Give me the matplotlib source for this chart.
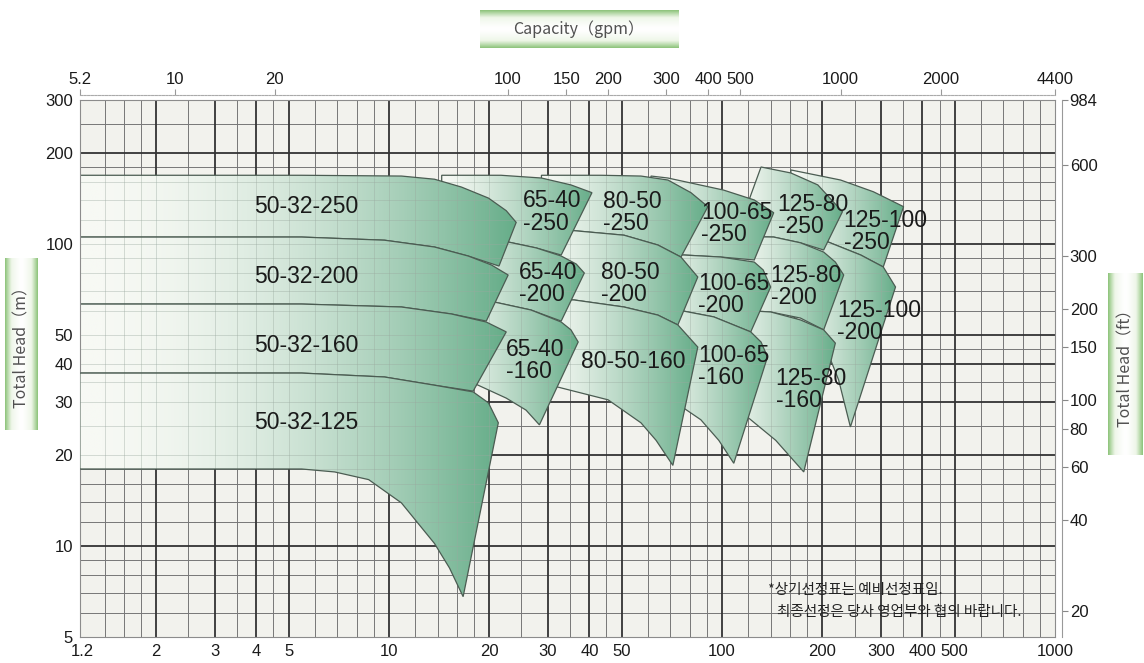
import numpy as np
import matplotlib.pyplot as plt
from matplotlib.patches import Polygon
from matplotlib.colors import LinearSegmentedColormap
from matplotlib.ticker import NullLocator

plt.rcParams['font.family'] = ['Liberation Sans', 'DejaVu Sans']
KR = ['Noto Sans CJK KR', 'DejaVu Sans']

# axis ticks
q_ticks = [1.2, 2, 3, 4, 5, 10, 20, 30, 40, 50, 100, 200, 300, 400, 500, 1000]   # m3/h
h_ticks = [5, 10, 20, 30, 40, 50, 100, 200, 300]                                # m
gpm_ticks = [5.2, 10, 20, 100, 150, 200, 300, 400, 500, 1000, 2000, 4400]
ft_ticks = [20, 40, 60, 80, 100, 150, 200, 300, 600, 984]

# graph paper lines
grid_q_major = [2, 3, 4, 5, 10, 20, 30, 40, 50, 100, 200, 300, 400, 500]
grid_q_minor = [1.4, 1.6, 1.8, 2.5, 3.5, 4.5, 6, 7, 8, 9, 12, 14, 16, 18, 25, 35, 45,
                60, 70, 80, 90, 120, 140, 160, 180, 250, 350, 450, 600, 700, 800, 900]
grid_h_major = [10, 20, 30, 40, 50, 100, 200]
grid_h_minor = [6, 7, 8, 9, 12, 14, 16, 18, 25, 35, 45, 60, 70, 80, 90,
                120, 140, 160, 180, 250]

# pump areas (Q m3/h, H m): max impeller curve left->right, then min impeller curve right->left
a_50_32_250 = [(1.18, 169), (5.47, 169), (10.9, 168), (13.7, 164), (16.5, 154.5), (19.9, 142),
               (22.5, 129), (24.1, 118), (21.4, 84.6), (17.3, 91.3), (13.7, 97.8), (9.7, 103),
               (5.47, 105.5), (1.18, 105.5)]
a_50_32_200 = [(1.18, 105.5), (5.47, 105.5), (9.7, 103), (13.7, 97.8), (17.3, 91.3), (20.3, 85.3),
               (22.8, 79), (19.6, 55.6), (15.4, 58.7), (10.9, 61.9), (5.47, 63.3), (1.18, 63.3)]
a_50_32_160 = [(1.18, 63.3), (5.47, 63.3), (10.9, 61.9), (15.4, 58.7), (19.6, 55.2), (22.5, 51.2),
               (17.9, 32.6), (13.7, 34.1), (9.7, 36.3), (5.47, 37.4), (1.18, 37.4)]
a_50_32_125 = [(1.18, 37.4), (5.47, 37.4), (9.7, 36.3), (13.7, 34.1), (17.9, 32.4), (19.9, 29.8),
               (21.3, 25.6), (16.7, 6.8), (15.2, 8.46), (13.7, 10.2), (10.9, 13.9), (8.69, 16.6),
               (6.87, 17.6), (5.47, 18), (1.18, 18)]
a_65_40_250 = [(14.4, 169), (21.7, 169), (28.7, 165.5), (35.2, 157), (40.7, 148),
               (32.9, 92), (27.7, 97.1), (22.8, 101.6), (14.4, 105.5)]
a_65_40_200 = [(14.4, 105.5), (22.8, 101.6), (27.7, 97.1), (32.9, 91.3), (36.5, 85.9), (38.6, 80.2),
               (32.9, 55.6), (26.7, 60.5), (20.7, 64.3), (14.4, 65.3)]
a_65_40_160 = [(14.4, 65.3), (20.7, 64.3), (26.7, 60.5), (32.9, 55.2), (35.2, 52), (37.0, 47.4),
               (28.3, 25.2), (25.8, 28.2), (22.5, 30.9), (17.9, 34.7), (14.4, 36.9)]
a_80_50_250 = [(28.7, 169), (43.4, 169), (57.1, 168), (68.8, 163), (80.7, 148), (90.7, 133),
               (75.3, 90.6), (64.2, 99.3), (50.8, 107), (35.2, 111), (28.7, 112)]
a_80_50_200 = [(28.7, 112), (35.2, 111), (50.8, 107), (64.2, 99.3), (75.3, 90.6), (84.6, 77.8),
               (73.7, 54.0), (64.2, 58.2), (50.8, 61.9), (36.0, 65.3), (28.7, 65.8)]
a_80_50_160 = [(28.7, 65.8), (36.0, 65.3), (50.8, 61.9), (64.2, 58.2), (73.7, 54.0), (84.6, 45.6),
               (71.2, 18.5), (63.4, 22.4), (57.1, 25.6), (45.5, 30.5), (32.2, 33.6), (28.7, 34.1)]
a_100_65_250 = [(61.2, 168), (68.8, 165.5), (101, 151), (125, 140), (143, 127),
                (125, 88.6), (99.2, 90.6), (76.9, 92), (61.2, 92)]
a_100_65_200 = [(61.2, 92), (76.9, 92), (99.2, 90.6), (125, 87.2), (133, 82.1), (140, 72.1),
                (122, 51.2), (94.5, 57.4), (73.7, 60.5), (61.2, 61)]
a_100_65_160 = [(61.2, 61), (73.7, 60.5), (94.5, 57.4), (122, 51.2), (131, 47.4), (137, 42.3),
                (108.5, 18.8), (97.8, 22.4), (86.4, 26.2), (76.9, 28.6), (61.2, 30.9)]
a_125_80_250 = [(131, 180), (161, 172), (194, 157), (230, 128),
                (202, 95.6), (172, 101), (143, 105.5), (110, 106)]
a_125_80_200 = [(110, 106), (143, 105.5), (172, 101), (202, 94.1), (219, 87.2), (232, 79),
                (202, 52), (172, 56.9), (140, 59.6), (110, 60.5)]
a_125_80_160 = [(110, 60.5), (140, 59.6), (172, 56.1), (202, 52), (219, 47),
                (176, 17.6), (145, 22.4), (120, 26.6), (99.2, 29.3)]
a_125_100_250 = [(161, 176), (227, 163), (285, 149), (351, 133),
                 (305, 84), (261, 92), (202, 103), (161, 107)]
a_125_100_200 = [(161, 107), (202, 103), (261, 92), (305, 84), (332, 72.1),
                 (243, 24.8), (224, 35.5), (198, 50), (161, 58.2)]

# back to front
areas = [
    ('125-100-250', a_125_100_250), ('125-100-200', a_125_100_200),
    ('125-80-250', a_125_80_250), ('125-80-200', a_125_80_200), ('125-80-160', a_125_80_160),
    ('100-65-250', a_100_65_250), ('100-65-200', a_100_65_200), ('100-65-160', a_100_65_160),
    ('80-50-250', a_80_50_250), ('80-50-200', a_80_50_200), ('80-50-160', a_80_50_160),
    ('65-40-250', a_65_40_250), ('65-40-200', a_65_40_200), ('65-40-160', a_65_40_160),
    ('50-32-250', a_50_32_250), ('50-32-200', a_50_32_200), ('50-32-160', a_50_32_160),
    ('50-32-125', a_50_32_125),
]

labels = [
    ('50-32-250', 3.93, 133), ('50-32-200', 3.93, 78.4), ('50-32-160', 3.93, 46.3),
    ('50-32-125', 3.93, 25.6),
    ('65-40\n-250', 25.3, 127.7), ('65-40\n-200', 24.6, 74.3), ('65-40\n-160', 22.5, 41.3),
    ('80-50\n-250', 43.9, 127), ('80-50\n-200', 43.4, 74.3), ('80-50-160', 37.8, 40.7),
    ('100-65\n-250', 86.4, 117), ('100-65\n-200', 84.6, 68.3), ('100-65\n-160', 84.6, 39.2),
    ('125-80\n-250', 147, 124), ('125-80\n-200', 140, 72.6), ('125-80\n-160', 145, 32.9),
    ('125-100\n-250', 232, 110), ('125-100\n-200', 222, 55.6),
]

Q_MIN, Q_MAX = 5.2 / 4.403, 1000
H_MIN, H_MAX = 5, 300

fig = plt.figure(figsize=(11.44, 6.63), dpi=100)
ax = fig.add_axes([80 / 1144, 26 / 663, 975 / 1144, 537 / 663])
ax.set_xscale('log')
ax.set_yscale('log')
ax.set_xlim(Q_MIN, Q_MAX)
ax.set_ylim(H_MIN, H_MAX)
ax.set_facecolor('#f2f2ed')

# paper grid
ax.vlines(grid_q_minor, H_MIN, H_MAX, colors='#777777', lw=0.7, zorder=1)
ax.hlines(grid_h_minor, Q_MIN, Q_MAX, colors='#777777', lw=0.7, zorder=1)
ax.vlines(grid_q_major, H_MIN, H_MAX, colors='#333333', lw=1.3, zorder=1.1)
ax.hlines(grid_h_major, Q_MIN, Q_MAX, colors='#333333', lw=1.3, zorder=1.1)

green = LinearSegmentedColormap.from_list('pump', ['#f7f9f4', '#66ad89'])
to_axes = ax.transData + ax.transAxes.inverted()

for i, (name, pts) in enumerate(areas):
    z = 2 + 0.03 * i
    q = [p[0] for p in pts]
    h = [p[1] for p in pts]
    poly = Polygon(pts, closed=True, fc='none', ec='#4b5c52', lw=0.9, zorder=z + 0.02)
    ax.add_patch(poly)
    (x0, y0), (x1, y1) = to_axes.transform([(min(q), min(h)), (max(q), max(h))])
    power = 1.9 if name.startswith('50-32') else 1.25
    grad = np.linspace(0, 1, 256)[None, :] ** power
    im = ax.imshow(grad, extent=(x0, x1, y0, y1), transform=ax.transAxes, cmap=green,
                   vmin=0, vmax=1, aspect='auto', interpolation='bilinear', zorder=z)
    im.set_clip_path(poly)
    # faded grid seen through the shading
    lv = ax.vlines(grid_q_major + grid_q_minor, H_MIN, H_MAX, colors='#9aa99f',
                   lw=0.6, alpha=0.45, zorder=z + 0.01)
    lh = ax.hlines(grid_h_major + grid_h_minor, Q_MIN, Q_MAX, colors='#9aa99f',
                   lw=0.6, alpha=0.45, zorder=z + 0.01)
    lv.set_clip_path(poly)
    lh.set_clip_path(poly)

for text, q, h in labels:
    ax.text(q, h, text, ha='left', va='center', fontsize=16.5, linespacing=0.95,
            color='#1a1a1a', zorder=10)

ax.text(0.7056, 0.0875, '*상기선정표는 예비선정표임.', transform=ax.transAxes,
        family=KR, fontsize=10.5, ha='left', va='center', color='#222222', zorder=10)
ax.text(0.715, 0.0466, '최종선정은 당사 영업부와 협의 바랍니다.', transform=ax.transAxes,
        family=KR, fontsize=10.5, ha='left', va='center', color='#222222', zorder=10)

ax.set_xlim(Q_MIN, Q_MAX)
ax.set_ylim(H_MIN, H_MAX)
ax.set_xticks(q_ticks, labels=[f'{v:g}' for v in q_ticks])
ax.set_yticks(h_ticks, labels=[f'{v:g}' for v in h_ticks])
ax.xaxis.set_minor_locator(NullLocator())
ax.yaxis.set_minor_locator(NullLocator())
ax.tick_params(length=0, labelsize=12, pad=5, labelcolor='#1a1a1a')
for s in ax.spines.values():
    s.set_color('#8c8c8c')
    s.set_linewidth(0.8)

top = ax.secondary_xaxis(1 + 5 / 537, functions=(lambda v: v * 4.403, lambda v: v / 4.403))
top.set_xticks(gpm_ticks, labels=[f'{v:g}' for v in gpm_ticks])
top.xaxis.set_minor_locator(NullLocator())
top.tick_params(direction='out', length=4, width=0.8, color='#999999', labelsize=12,
                pad=1.5, labelcolor='#1a1a1a')
top.spines['top'].set_color('#aaaaaa')
top.spines['top'].set_linewidth(0.8)
top.spines['top'].set_linestyle((0, (2, 1.2)))

right = ax.secondary_yaxis(1 + 7 / 975, functions=(lambda v: v * 3.2808, lambda v: v / 3.2808))
right.set_yticks(ft_ticks, labels=[f'{v:g}' for v in ft_ticks])
right.yaxis.set_minor_locator(NullLocator())
right.tick_params(direction='out', length=4, width=0.8, color='#888888', labelsize=12,
                  pad=1.5, labelcolor='#1a1a1a')
right.spines['right'].set_color('#999999')
right.spines['right'].set_linewidth(0.8)

box_cmap = LinearSegmentedColormap.from_list('box', ['#ffffff', '#eef6e8', '#8cc379'])


def title_box(rect, text, rotate):
    bx = fig.add_axes(rect)
    bx.set_axis_off()
    t = np.abs(np.linspace(-1, 1, 120)) ** 1.4
    img = t[None, :] if rotate else t[:, None]
    bx.imshow(img, cmap=box_cmap, vmin=0, vmax=1, aspect='auto', extent=(0, 1, 0, 1),
              interpolation='bilinear')
    bx.text(0.5, 0.5, text, rotation=90 if rotate else 0, ha='center', va='center',
            family=KR, fontsize=11.5, color='#505050', transform=bx.transAxes)


title_box([480 / 1144, 615 / 663, 198 / 1144, 38 / 663], 'Capacity（gpm）', False)
title_box([5 / 1144, 233 / 663, 33 / 1144, 172 / 663], 'Total Head（m）', True)
title_box([1108 / 1144, 208 / 663, 35 / 1144, 182 / 663], 'Total Head（ft）', True)

fig.savefig('out.png', dpi=100)
